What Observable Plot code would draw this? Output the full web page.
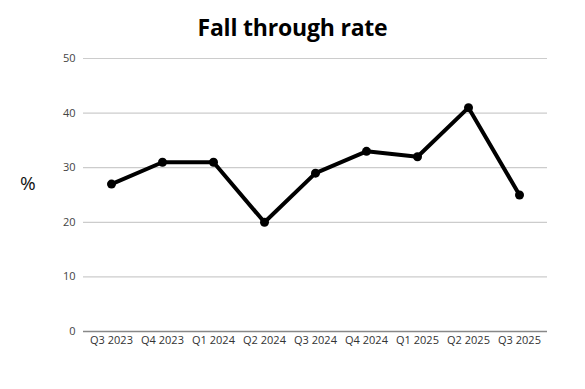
<!DOCTYPE html>
<html>
<head>
<meta charset="utf-8">
<script src="https://cdn.jsdelivr.net/npm/d3@7"></script>
<script src="https://cdn.jsdelivr.net/npm/@observablehq/plot@0.6"></script>
<style>
  html, body { margin: 0; padding: 0; background: #fff; }
  #wrap { width: 585px; height: 389px; position: relative; overflow: hidden; }
  #title { height: 45px; text-align: center; font-family: "Open Sans", sans-serif; font-weight: 700; font-size: 23px; color: #000; line-height: 54px; letter-spacing: -0.2px; }
  #ylab { position: absolute; left: 20px; top: 170px; font-family: "Open Sans", sans-serif; font-size: 19px; color: #111; }
</style>
</head>
<body>
<div id="wrap">
  <div id="title">Fall through rate</div>
  <div id="ylab">%</div>
  <div id="chart"></div>
</div>
<script>
const quarters = ["Q3 2023", "Q4 2023", "Q1 2024", "Q2 2024", "Q3 2024", "Q4 2024", "Q1 2025", "Q2 2025", "Q3 2025"];
const rates = [27, 31, 31, 20, 29, 33, 32, 41, 25];
const yTicks = [0, 10, 20, 30, 40, 50];

const data = quarters.map((q, i) => ({quarter: q, rate: rates[i]}));

const chart = Plot.plot({
  width: 585,
  height: 344,
  marginTop: 13,
  marginBottom: 58,
  marginLeft: 83,
  marginRight: 38,
  style: {fontFamily: "Open Sans, sans-serif", fontSize: "11px", color: "#444", background: "#fff"},
  x: {type: "point", domain: quarters, padding: 0.5, label: null},
  y: {domain: [0, 50], ticks: yTicks, label: null},
  marks: [
    Plot.gridY(yTicks.filter(d => d > 0), {stroke: "#ccc", strokeOpacity: 1, strokeWidth: 1.2}),
    Plot.ruleY([0], {stroke: "#888", strokeWidth: 1.5}),
    Plot.axisY(yTicks, {tickSize: 0, tickPadding: 8, fill: "#444", fontSize: 11}),
    Plot.axisX(quarters, {tickSize: 0, tickPadding: 5, fill: "#333", fontSize: 11}),
    Plot.line(data, {x: "quarter", y: "rate", stroke: "#000", strokeWidth: 4, strokeLinejoin: "round"}),
    Plot.dot(data, {x: "quarter", y: "rate", r: 4.5, fill: "#000"})
  ]
});
document.getElementById("chart").appendChild(chart);
</script>
</body>
</html>
